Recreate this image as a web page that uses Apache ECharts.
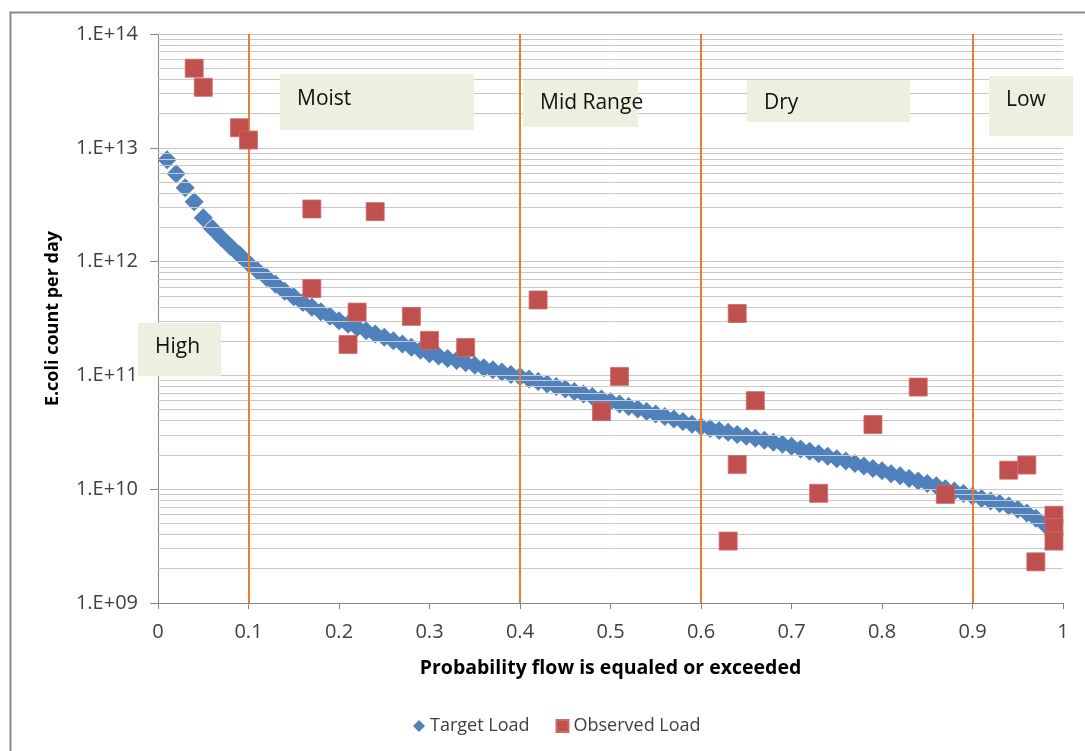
<!DOCTYPE html>
<html>
<head>
<meta charset="utf-8">
<script src="https://cdn.jsdelivr.net/npm/echarts@6/dist/echarts.min.js"></script>
<style>html,body{margin:0;padding:0;background:#fff}#chart{width:1085px;height:751px}</style>
</head>
<body>
<div id="chart"></div>
<script>
// Target Load: probability (x) and load (y)
const targetX = [0.01,0.02,0.03,0.04,0.05,0.06,0.07,0.08,0.09,0.10,
  0.11,0.12,0.13,0.14,0.15,0.16,0.17,0.18,0.19,0.20,
  0.21,0.22,0.23,0.24,0.25,0.26,0.27,0.28,0.29,0.30,
  0.31,0.32,0.33,0.34,0.35,0.36,0.37,0.38,0.39,0.40,
  0.41,0.42,0.43,0.44,0.45,0.46,0.47,0.48,0.49,0.50,
  0.51,0.52,0.53,0.54,0.55,0.56,0.57,0.58,0.59,0.60,
  0.61,0.62,0.63,0.64,0.65,0.66,0.67,0.68,0.69,0.70,
  0.71,0.72,0.73,0.74,0.75,0.76,0.77,0.78,0.79,0.80,
  0.81,0.82,0.83,0.84,0.85,0.86,0.87,0.88,0.89,0.90,
  0.91,0.92,0.93,0.94,0.95,0.96,0.97,0.98,0.99];
const targetLoad = [7.85e12,5.92e12,4.46e12,3.36e12,2.43e12,1.95e12,1.62e12,1.36e12,1.15e12,9.66e11,
  8.32e11,7.24e11,6.31e11,5.50e11,4.90e11,4.37e11,3.98e11,3.63e11,3.31e11,3.02e11,
  2.82e11,2.64e11,2.47e11,2.31e11,2.16e11,2.02e11,1.89e11,1.77e11,1.66e11,1.55e11,
  1.48e11,1.41e11,1.35e11,1.29e11,1.23e11,1.17e11,1.12e11,1.07e11,1.02e11,9.77e10,
  9.29e10,8.83e10,8.39e10,7.98e10,7.59e10,7.21e10,6.86e10,6.52e10,6.19e10,5.89e10,
  5.60e10,5.32e10,5.06e10,4.81e10,4.57e10,4.35e10,4.13e10,3.93e10,3.73e10,3.55e10,
  3.41e10,3.28e10,3.16e10,3.03e10,2.92e10,2.80e10,2.69e10,2.58e10,2.48e10,2.38e10,
  2.26e10,2.16e10,2.05e10,1.95e10,1.85e10,1.77e10,1.68e10,1.60e10,1.52e10,1.45e10,
  1.37e10,1.31e10,1.24e10,1.18e10,1.12e10,1.07e10,1.01e10,9.64e9,9.16e9,8.71e9,
  8.28e9,7.87e9,7.48e9,7.11e9,6.68e9,6.17e9,5.56e9,4.90e9,4.27e9];

// Observed Load
const observedX = [0.04,0.05,0.09,0.10,0.17,0.24,0.17,0.22,0.21,0.28,0.30,0.34,0.42,0.51,0.49,
  0.64,0.66,0.64,0.63,0.73,0.79,0.84,0.87,0.94,0.96,0.97,0.99,0.99,0.99];
const observedLoad = [5.0e13,3.4e13,1.5e13,1.17e13,2.9e12,2.75e12,5.8e11,3.6e11,1.87e11,3.3e11,2.03e11,1.76e11,4.6e11,9.8e10,4.8e10,
  3.5e11,6.0e10,1.65e10,3.5e9,9.2e9,3.7e10,7.9e10,9.0e9,1.47e10,1.63e10,2.3e9,5.9e9,4.6e9,3.5e9];

// Flow regime boundaries and labels
const regimeBounds = [0.1,0.4,0.6,0.9];
const regimeNames = ['High','Moist','Mid Range','Dry','Low'];

// Axis ticks
const yTickLabels = {9:'1.E+09',10:'1.E+10',11:'1.E+11',12:'1.E+12',13:'1.E+13',14:'1.E+14'};
const gridDecades = [9,10,11,12,13];
const gridMultipliers = [1,2,3,4,5,6,7,8,9];

const FONT = 'Open Sans';
const gridValues = [];
gridDecades.forEach(d => gridMultipliers.forEach(m => {
  const v = m * Math.pow(10, d);
  if (v > 1e9) gridValues.push(v);
}));
gridValues.push(1e14);

const chart = echarts.init(document.getElementById('chart'), null, {renderer:'canvas'});

// annotation boxes (pixel layout)
const boxes = [
  {name: regimeNames[0], x:138, y:323, w:83,  h:53, tx:155, ty:347},
  {name: regimeNames[1], x:280, y:74,  w:194, h:56, tx:297, ty:99},
  {name: regimeNames[2], x:523, y:80,  w:115, h:47, tx:540, ty:103},
  {name: regimeNames[3], x:747, y:80,  w:163, h:42, tx:764, ty:103},
  {name: regimeNames[4], x:989, y:76,  w:84,  h:60, tx:1006, ty:100}
];
const graphics = [{
  type:'rect', left:8, top:10, z:0, silent:true,
  shape:{x:0,y:0,width:1100,height:800},
  style:{fill:'none', stroke:'#898989', lineWidth:2}
}];
boxes.forEach(b => {
  graphics.push({type:'rect', z:100, silent:true, shape:{x:b.x,y:b.y,width:b.w,height:b.h}, style:{fill:'#EBF1DE'}});
  graphics.push({type:'text', z:101, silent:true, x:b.tx, y:b.ty,
    style:{text:b.name, fill:'#111', font:'21px "' + FONT + '"', textVerticalAlign:'middle', textAlign:'left'}});
});

const option = {
  animation:false,
  backgroundColor:'#fff',
  textStyle:{fontFamily:FONT},
  grid:{left:158, right:22, top:34, bottom:148, containLabel:false},
  legend:{
    left:408, top:712, itemWidth:12, itemHeight:12, itemGap:26,
    textStyle:{fontFamily:FONT, fontSize:18, color:'#404040'},
    data:[{name:'Target Load', icon:'diamond'},{name:'Observed Load', icon:'rect'}]
  },
  xAxis:{
    type:'value', min:0, max:1, interval:0.1,
    name:'Probability flow is equaled or exceeded', nameLocation:'middle', nameGap:55,
    nameTextStyle:{fontFamily:FONT, fontSize:19.5, fontWeight:'bold', color:'#000'},
    axisLine:{show:true, onZero:false, lineStyle:{color:'#868686', width:1}},
    axisTick:{show:true, inside:false, length:6, lineStyle:{color:'#868686'}},
    axisLabel:{fontFamily:FONT, fontSize:20, color:'#404040', margin:19},
    splitLine:{show:false}
  },
  yAxis:{
    type:'log', logBase:10, min:1e9, max:1e14, interval:1,
    name:'E.coli count per day', nameLocation:'middle', nameGap:96, nameRotate:90,
    nameTextStyle:{fontFamily:FONT, fontSize:18, fontWeight:'bold', color:'#000'},
    axisLine:{show:true, lineStyle:{color:'#868686', width:1}},
    axisTick:{show:true, inside:false, length:8, lineStyle:{color:'#868686'}},
    axisLabel:{fontFamily:FONT, fontSize:20, color:'#404040', margin:20,
      formatter: v => yTickLabels[Math.round(Math.log10(v))] || ''},
    splitLine:{show:false}
  },
  graphic: graphics,
  series:[
    {
      name:'grid', type:'line', data:[], z:1, silent:true,
      markLine:{silent:true, symbol:['none','none'], label:{show:false}, animation:false,
        lineStyle:{color:'#C8C8C8', width:1, type:'solid'},
        data: gridValues.map(v => ({yAxis:v}))}
    },
    {
      name:'regimes', type:'line', data:[], z:3, silent:true,
      markLine:{silent:true, symbol:['none','none'], label:{show:false}, animation:false,
        lineStyle:{color:'#ED7D31', width:2, type:'solid'},
        data: regimeBounds.map(v => ({xAxis:v}))}
    },
    {
      name:'Target Load', type:'scatter', symbol:'diamond', symbolSize:19, z:4,
      itemStyle:{color:'#4F81BD', opacity:1},
      data: targetX.map((x,i) => [x, targetLoad[i]])
    },
    {
      name:'Observed Load', type:'scatter', symbol:'rect', symbolSize:18, z:5,
      itemStyle:{color:'#C0504D', opacity:1, borderColor:'#CB6C69', borderWidth:0.8},
      data: observedX.map((x,i) => [x, observedLoad[i]])
    }
  ]
};
chart.setOption(option);
</script>
</body>
</html>
